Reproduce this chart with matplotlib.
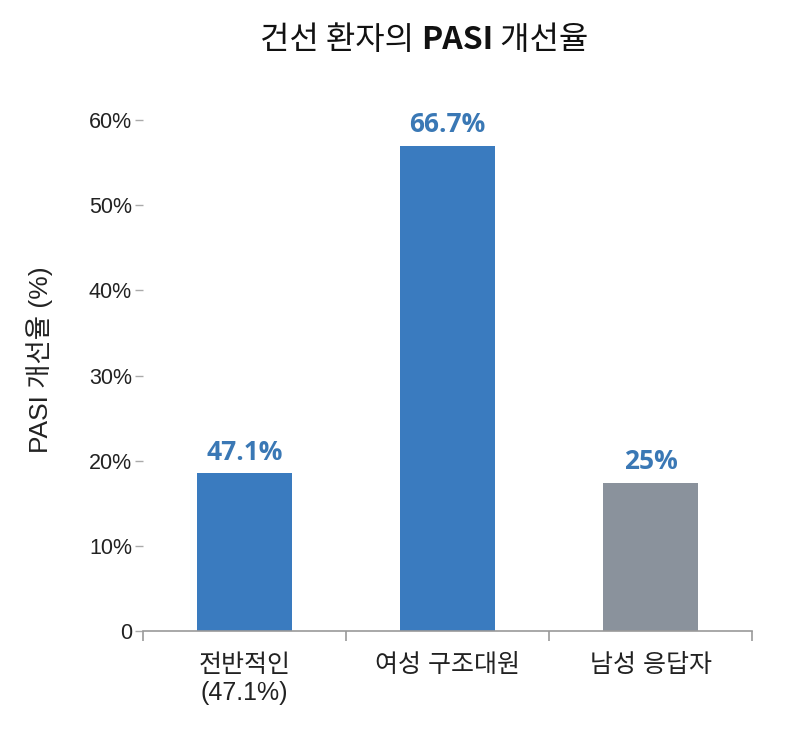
import matplotlib
matplotlib.use("Agg")
import matplotlib.pyplot as plt

plt.rcParams['font.family'] = ['Liberation Sans', 'Noto Sans CJK KR', 'DejaVu Sans']

categories = ['전반적인\n(47.1%)', '여성 구조대원', '남성 응답자']
bar_heights = [18.5, 57.0, 17.4]
value_labels = ['47.1%', '66.7%', '25%']
bar_colors = ['#3a7bbf', '#3a7bbf', '#8a929c']
yticks = [0, 10, 20, 30, 40, 50, 60]
ytick_labels = ['0', '10%', '20%', '30%', '40%', '50%', '60%']

fig = plt.figure(figsize=(8, 7.3), dpi=100)
ax = fig.add_axes([0.179, 0.1356, 0.761, 0.8356 - 0.1356])

x = range(len(categories))
ax.bar(x, bar_heights, width=0.465, color=bar_colors, zorder=2)
for xi, h, lab in zip(x, bar_heights, value_labels):
    ax.text(xi, h + 0.9, lab, ha='center', va='bottom', fontsize=19,
            fontweight='bold', color='#3a78b5', family=['Open Sans', 'DejaVu Sans'])

ax.set_xlim(-0.5, 2.5)
ax.set_ylim(0, 60)
ax.set_yticks(yticks)
ax.set_yticklabels(ytick_labels, fontsize=15.5, color='#222222')
ax.set_xticks([-0.5, 0.5, 1.5, 2.5])
ax.set_xticklabels([])
ax.set_xticks(list(x), minor=True)
ax.set_xticklabels(categories, minor=True, fontsize=18, color='#222222', linespacing=1.2)
ax.tick_params(axis='x', which='minor', length=0, pad=16)
ax.tick_params(axis='x', which='major', length=7, color='#999999', width=1.2, direction='out')
ax.tick_params(axis='y', length=6, color='#aaaaaa', width=1, pad=2)
for s in ['top', 'right', 'left']:
    ax.spines[s].set_visible(False)
ax.spines['bottom'].set_color('#999999')
ax.spines['bottom'].set_linewidth(1.2)

ax.set_ylabel('PASI 개선율 (%)', fontsize=19, color='#222222')
ax.yaxis.set_label_coords(-0.148, 0.53)

# Title with bold PASI
fig.canvas.draw()
r = fig.canvas.get_renderer()
parts = [('건선 환자의 ', 'normal'), ('PASI', 'bold'), (' 개선율', 'normal')]
texts = []
for s, w in parts:
    t = fig.text(0, 0.945, s, fontsize=23, fontweight=w, color='#111111', va='center', ha='left',
                 family=['Noto Sans CJK KR', 'DejaVu Sans'])
    texts.append(t)
widths = [t.get_window_extent(r).width for t in texts]
total = sum(widths)
xpix = 424 - total / 2
for t, w in zip(texts, widths):
    t.set_x(xpix / 800)
    xpix += w

fig.savefig('out.png', dpi=100, facecolor='white')
